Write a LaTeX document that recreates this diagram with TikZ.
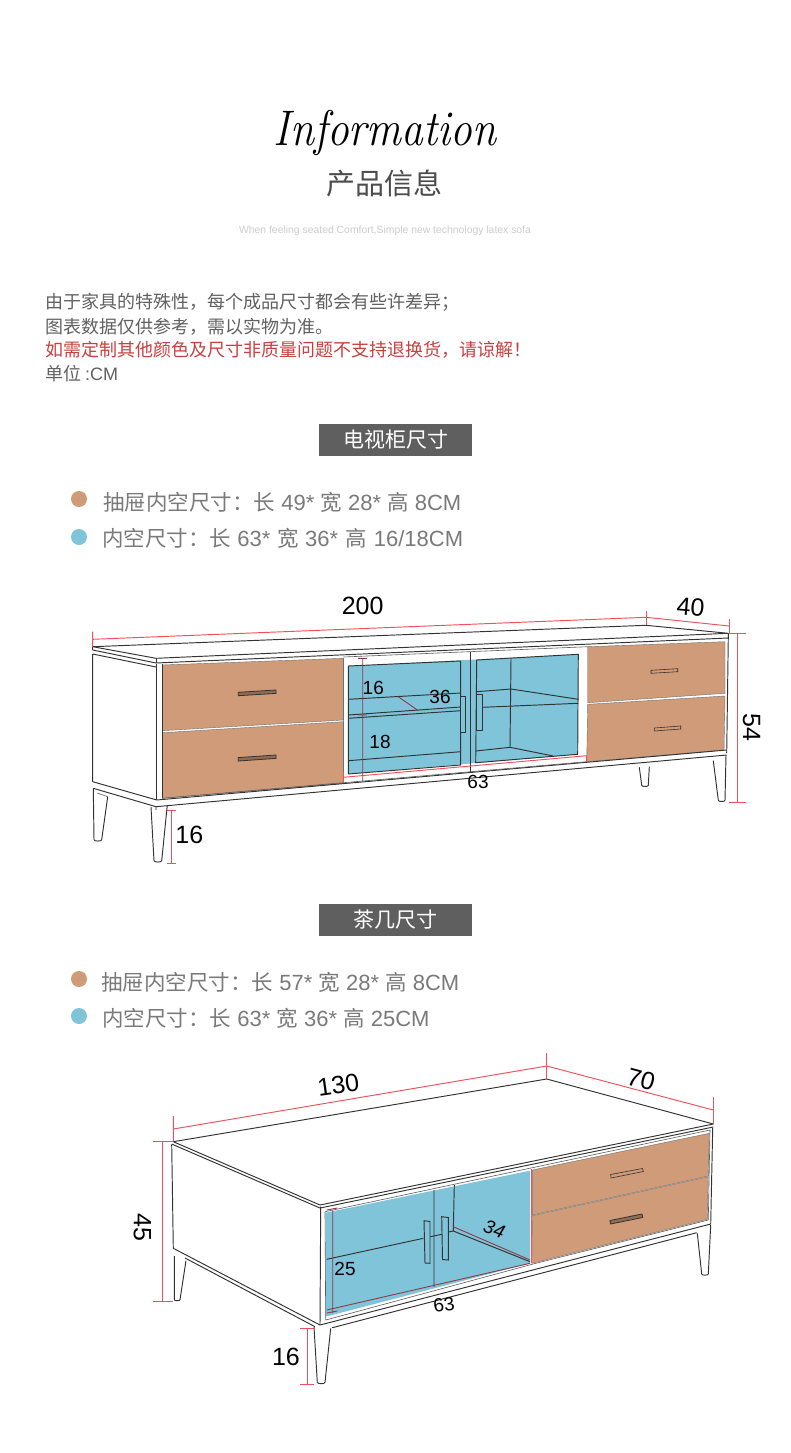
\documentclass[tikz,border=0pt]{standalone}
\usepackage{graphicx}
\usepackage{fontspec}
\newfontfamily\cjkf{Noto Sans CJK SC}
\newfontfamily\latf{Liberation Sans}
\newcommand{\cj}[1]{{\cjkf\fontsize{21.5}{22}\selectfont #1}}
\definecolor{inkline}{HTML}{333333}
\definecolor{dimred}{HTML}{F4505C}
\definecolor{dimdark}{HTML}{8E3B47}
\definecolor{woodfill}{HTML}{CF9B78}
\definecolor{glassfill}{HTML}{80C4DA}
\definecolor{boxgray}{HTML}{5F5F5F}
\definecolor{notered}{HTML}{C94040}
\tikzset{
    edge/.style = {draw=inkline,line width=0.95pt,line join=round},
    thinedge/.style = {draw=inkline!80,line width=0.6pt,line join=round},
    dim/.style = {draw=dimred,line width=0.95pt},
    dimd/.style = {draw=dimdark,line width=0.9pt},
    wood/.style = {fill=woodfill,draw=inkline!70,line width=0.4pt},
    glass/.style = {fill=glassfill,draw=none},
    grip/.style = {fill=woodfill!70!black,draw=inkline,line width=0.8pt},
    gripl/.style = {fill=woodfill,draw=inkline,line width=0.6pt},
    gripb/.style = {fill=glassfill,draw=inkline,line width=0.95pt},
    bignum/.style = {inner sep=0pt,font=\latf\fontsize{25}{25}\selectfont},
    smallnum/.style = {inner sep=0pt,font=\latf\fontsize{19}{19}\selectfont},
    para/.style = {inner sep=0pt,anchor=west,text=black!62,font=\cjkf\fontsize{18}{18}\selectfont},
    legend/.style = {inner sep=0pt,anchor=west,text=black!52,font=\latf\fontsize{22}{22}\selectfont},
    dot/.style = {circle,inner sep=0pt,minimum size=16pt},
    tag/.style = {rectangle,inner sep=0pt,fill=boxgray,minimum width=153pt,minimum height=32pt,text=white,font=\cjkf\fontsize{21}{21}\selectfont},
}
\begin{document}
\begin{tikzpicture}[x=1pt,y=-1pt]
\useasboundingbox (0,0) rectangle (790,1453);
\fill[white] (0,0) rectangle (790,1453);
%
\node[inner sep=0pt,text=black,font=\fontsize{50}{50}\selectfont\itshape] at (385,133) (title) {\scalebox{.87}[1]{Information}};
\node[inner sep=0pt,text=black!70,font=\cjkf\fontsize{29}{29}\selectfont] at (384,183) (subtitle) {产品信息};
\node[inner sep=0pt,text=black!20,font=\latf\fontsize{10.4}{10}\selectfont] at (385,231) (slogan) {When feeling seated Comfort,Simple new technology latex sofa};
%
\node[para] at (45,302.5) (noteone) {由于家具的特殊性，每个成品尺寸都会有些许差异；};
\node[para] at (45,326.5) (notetwo) {图表数据仅供参考，需以实物为准。};
\node[para,text=notered] at (45,350) (notered) {如需定制其他颜色及尺寸非质量问题不支持退换货，请谅解！};
\node[para] at (45,374) (noteunit) {单位 \latf :CM};
%
\node[tag] at (395.5,440) (tvtag) {电视柜尺寸};
\node[dot,fill=woodfill] at (79,499) (tvdota) {};
\node[dot,fill=glassfill] at (79,537) (tvdotb) {};
\node[legend] at (103,502) (tvlega) {\cj{抽屉内空尺寸：长} 49* \cj{宽} 28* \cj{高} 8CM};
\node[legend] at (102,538) (tvlegb) {\cj{内空尺寸：长} 63*\hspace{1pt} \cj{宽} 36*\hspace{1pt} \cj{高} \hspace{1pt}16/18CM};
%
% tv cabinet fills
\fill[glass] (348.3,666) -- (578.3,654.3) -- (577.7,754.3) -- (348.3,774) -- cycle;
\path[wood] (162.3,665) -- (343.3,658.3) -- (343.3,720) -- (162.3,730.7) -- cycle;
\path[wood] (162.3,732.7) -- (343.3,721.7) -- (343.3,783.3) -- (162.3,798.3) -- cycle;
\path[wood] (587.7,646.7) -- (725,641.7) -- (725,693.3) -- (587.7,702.7) -- cycle;
\path[wood] (587.7,704.3) -- (725,696) -- (724,750) -- (586.7,761.7) -- cycle;
%
% tv cabinet body
\draw[edge] (92.7,646.7) -- (646,625.3) -- (728.3,633.3) -- (156,658.3) -- cycle;
\draw[edge] (92.7,650) -- (156,663) -- (728.3,638) -- (728.3,633.3);
\draw[edge] (92.7,646.7) -- (92.7,650) (156,658.3) -- (156,663);
\draw[edge] (92.7,654) -- (156,667) (92.7,654) -- (92.7,781.7) -- (156.7,800);
\draw[edge] (156.7,664) -- (156.7,800) (162.3,664) -- (162.3,798);
\draw[edge] (728.3,636.7) -- (726.7,753);
\draw[thinedge] (343.3,657) -- (587.7,646.7) (343.3,658.3) -- (343.3,783.3);
\draw[edge] (156.7,800) -- (726.7,750) (156,806.7) -- (726.7,755) (93.3,788.3) -- (156,806.7);
\draw[thinedge] (162.3,798.3) -- (586.7,761.7);
%
% tv cabinet legs
\draw[edge] (93.3,788.3) -- (94,839.7) to[out=-90,in=-90,looseness=.6] (101.7,839.7) -- (107.7,796.7);
\draw[thinedge] (97.3,793) -- (107.7,796.7);
\draw[edge] (151,807) -- (154,860.7) to[out=-90,in=-90,looseness=.6] (161.7,860.7) -- (167.3,805);
\draw[edge] (156,806.7) -- (156,810) (713.3,760.7) -- (718.3,800.3) to[out=-90,in=-90,looseness=.6] (725,800.3) -- (726,755);
\draw[edge] (639.3,767.3) -- (641.7,785.3) to[out=-90,in=-90,looseness=.6] (648.3,785.3) -- (649.3,766.7);
%
% tv cabinet doors
\draw[edge] (348.3,666) -- (460.7,661) -- (460.7,765) -- (348.3,774) -- cycle;
\draw[edge] (348.3,699.3) -- (460.7,693) (348.3,715) -- (460.7,707) (348.3,718.3) -- (460.7,710.7);
\draw[edge] (348.3,760.7) -- (460.7,751.7);
\draw[edge] (476.7,660) -- (578.3,654.3) -- (577.7,754.3) -- (475.7,762.7) -- cycle;
\draw[edge] (511,659) -- (510,747.3) (476.7,691.7) -- (511,689) -- (578.3,699.3);
\draw[edge] (482.3,707.3) -- (578.3,703.3) (475.7,751) -- (510,747.3) -- (553.3,756);
\draw[edge] (470,651.7) -- (470,771.7);
\draw[gripb] (460.7,696) rectangle (465.7,732.7);
\draw[gripb] (476.7,694) rectangle (482.7,730.7);
\draw[grip] (238.3,692.3) -- (276,690) -- (276,693.4) -- (238.3,695.7) -- cycle;
\draw[grip] (238.3,757.6) -- (276,755) -- (276,758.4) -- (238.3,761) -- cycle;
\draw[gripl] (651,670.3) -- (677.7,668.7) -- (677.7,671.7) -- (651,673.3) -- cycle;
\draw[gripl] (654.3,728) -- (680.7,726) -- (680.7,729) -- (654.3,731) -- cycle;
%
% tv cabinet sizes
\draw[dim] (92.7,631.7) -- (92.7,646.7) (92.7,639.3) -- (646,617.3) -- (729,626);
\draw[dim] (646,610.7) -- (646,625) (729,619.3) -- (729,633.3);
\draw[dim] (737.3,633.3) -- (737.3,802.3) (729,633.3) -- (745.7,633.3) (729,802.3) -- (745.7,802.3);
\draw[dim] (171.7,810) -- (171.7,863.3) (167,810) -- (176,810) (167,863.3) -- (176,863.3);
\draw[dim] (343.3,777.3) -- (586.7,755.7) (343.3,771.7) -- (343.3,782.7) (586.7,755.7) -- (586.7,761.7);
\draw[dimd] (362.7,658.3) -- (362.7,781.7) (358,658.3) -- (367,658.3) (358,715) -- (367,715) (398.3,696.7) -- (418.3,710.7);
\node[bignum] at (362.7,605.7) (tvlen) {200};
\node[bignum,rotate=-5] at (690.7,606.7) (tvdep) {40};
\node[bignum,rotate=-90] at (751.7,727.3) (tvhei) {54};
\node[bignum] at (189.3,835) (tvleg) {16};
\node[smallnum] at (373.3,688) (tvupper) {16};
\node[smallnum] at (380,741.7) (tvlower) {18};
\node[smallnum] at (440,697.3) (tvinner) {36};
\node[smallnum] at (478,782) (tvwide) {63};
%
\node[tag] at (395.5,920) (teatag) {茶几尺寸};
\node[dot,fill=woodfill] at (79,979) (teadota) {};
\node[dot,fill=glassfill] at (79,1016) (teadotb) {};
\node[legend] at (101,982) (tealega) {\cj{抽屉内空尺寸：长} 57* \cj{宽} 28* \cj{高} 8CM};
\node[legend] at (102,1018) (tealegb) {\cj{内空尺寸：长} 63* \cj{宽} 36* \cj{高} 25CM};
%
% tea table fills
\fill[glass] (325.7,1212.7) -- (530,1170.7) -- (530,1263.3) -- (325.7,1316.7) -- cycle;
\path[wood] (532.3,1170) -- (709.3,1133.3) -- (708.3,1176) -- (532.3,1215) -- cycle;
\path[wood] (532.3,1215.7) -- (708.3,1176.7) -- (707.3,1219.3) -- (531.7,1263.3) -- cycle;
%
% tea table body
\draw[edge] (173.3,1141.7) -- (546.7,1079) -- (713.3,1124) -- (320,1205) -- cycle;
\draw[edge] (172.3,1144.3) -- (320,1208) -- (713.3,1127);
\draw[edge] (171.7,1144.3) -- (173.3,1248.3) -- (320,1325) -- (710.7,1224) -- (712.7,1128);
\draw[edge] (320.7,1206.7) -- (320,1325);
\draw[thinedge] (325,1211.7) -- (710,1130) -- (708.3,1220) (325,1211.7) -- (325.7,1320) -- (535,1263.5) -- (708.3,1220);
\draw[edge] (332.3,1327.7) -- (696.7,1232.7) (185,1258) -- (315,1326.7);
%
% tea table legs
\draw[edge] (174.3,1256) -- (174.3,1299.7) to[out=-90,in=-90,looseness=.6] (180,1299.7) -- (186,1260.7);
\draw[edge] (314,1326.7) -- (317.3,1382.3) to[out=-90,in=-90,looseness=.6] (325,1382.3) -- (330.7,1328.3);
\draw[edge] (697.3,1233.3) -- (701.7,1274) to[out=-90,in=-90,looseness=.6] (708.3,1274) -- (710.7,1225);
%
% tea table doors
\draw[edge] (434,1190) -- (434,1287) (454.3,1185) -- (453.3,1231);
\draw[edge] (326.7,1259.3) -- (423.3,1238.3) (430,1236.8) -- (441.7,1234.3) (448.3,1232) -- (453.3,1231) -- (530,1261.7);
\draw[gripb] (424,1220.7) -- (430,1221.5) -- (430,1263.3) -- (425,1263) -- cycle;
\draw[gripb] (441.7,1216.7) -- (448.3,1217.5) -- (448.3,1260) -- (442.5,1259.5) -- cycle;
\draw[gripl] (610.7,1174.5) -- (642.5,1168.5) -- (643.3,1171.5) -- (611,1178) -- cycle;
\draw[grip] (610,1220.5) -- (642,1214) -- (642.7,1217.5) -- (610.5,1224) -- cycle;
%
% tea table sizes
\draw[dim] (173.3,1116) -- (173.3,1141.7) (173.3,1129) -- (546.7,1066) -- (713.3,1110);
\draw[dim] (546.7,1053.3) -- (546.7,1079) (713.3,1096.7) -- (713.3,1124);
\draw[dim] (162.7,1141.7) -- (162.7,1301.7) (153.3,1141.7) -- (173.3,1141.7) (153.3,1301.7) -- (173.3,1301.7);
\draw[dim] (307.3,1328.3) -- (307.3,1384.3) (300,1328.3) -- (314,1328.3) (300,1384.3) -- (314,1384.3);
\draw[dim] (531,1168.5) -- (531,1263.3);
\draw[dimd] (326.7,1310) -- (530,1263.3) (453.3,1226.7) -- (530,1260);
\draw[dimd] (332.7,1210) -- (332.7,1313) (326.7,1210) -- (337.3,1208) (326.7,1313) -- (337.3,1311);
\node[bignum,rotate=8] at (338.3,1085) (tealen) {130};
\node[bignum,rotate=-15] at (641,1079.3) (teadep) {70};
\node[bignum,rotate=-90] at (142.3,1227.3) (teahei) {45};
\node[bignum] at (286,1357.3) (tealeg) {16};
\node[smallnum] at (345,1269.3) (teainner) {25};
\node[smallnum,rotate=8] at (444,1305) (teawide) {63};
\node[smallnum,rotate=-20,font=\latf\itshape\fontsize{19}{19}\selectfont] at (494.3,1229.3) (teadeep) {34};
\end{tikzpicture}
\end{document}
